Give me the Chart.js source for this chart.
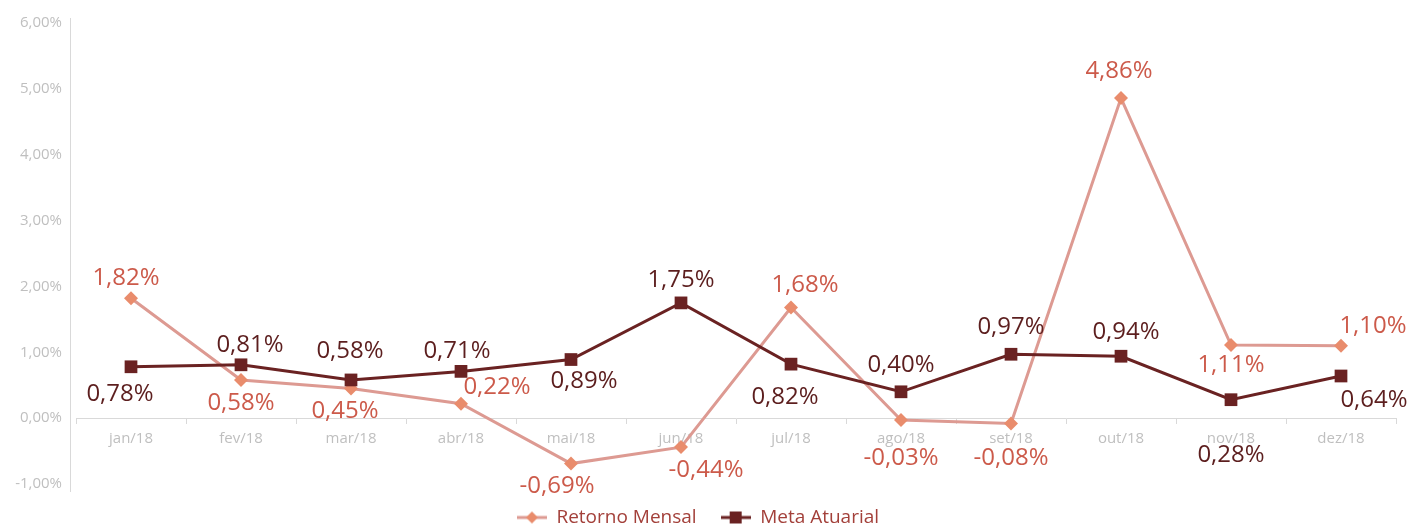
<!DOCTYPE html>
<html>
<head>
<meta charset="utf-8">
<script src="https://cdn.jsdelivr.net/npm/chart.js@4.4.0/dist/chart.umd.min.js"></script>
<style>
  html, body { margin: 0; padding: 0; background: #ffffff; }
  #wrap { width: 1423px; height: 527px; }
</style>
</head>
<body>
<div id="wrap"><canvas id="chart" width="1423" height="527"></canvas></div>
<script>
// Data
const months = ['jan/18', 'fev/18', 'mar/18', 'abr/18', 'mai/18', 'jun/18', 'jul/18', 'ago/18', 'set/18', 'out/18', 'nov/18', 'dez/18'];
const retornoMensal = [1.82, 0.58, 0.45, 0.22, -0.69, -0.44, 1.68, -0.03, -0.08, 4.86, 1.11, 1.10];
const metaAtuarial = [0.78, 0.81, 0.58, 0.71, 0.89, 1.75, 0.82, 0.40, 0.97, 0.94, 0.28, 0.64];
const yTicks = [-1, 0, 1, 2, 3, 4, 5, 6];

// Where each value label sits relative to its marker [dx, dy]
const retornoLabelPos = [[-5, -20], [0, 23], [-6, 23], [36, -16], [-14, 23], [25, 23], [14, -22], [0, 38], [0, 35], [-2, -27], [0, 20], [32, -20]];
const metaLabelPos = [[-11, 27], [9, -20], [-1, -29], [-4, -20], [13, 22], [0, -23], [-6, 33], [0, -27], [0, -27], [5, -24], [0, 55], [33, 24]];

const COLORS = {
  retornoLine: '#dd9a92',
  retornoMarker: '#e98c6c',
  retornoLabel: '#cc5a4a',
  metaLine: '#6a2222',
  metaLabel: '#5c1e1e',
  axis: '#d9d9d9',
  tick: '#bfbfbf',
  legend: '#a3403a'
};

function fmtPct(v) {
  return v.toFixed(2).replace('.', ',') + '%';
}

// Small line+marker images for the legend
function legendIcon(lineColor, markerColor, diamond) {
  const c = document.createElement('canvas');
  c.width = 30; c.height = 16;
  const g = c.getContext('2d');
  g.strokeStyle = lineColor;
  g.lineWidth = 3;
  g.beginPath(); g.moveTo(0, 8); g.lineTo(30, 8); g.stroke();
  g.fillStyle = markerColor;
  g.beginPath();
  if (diamond) {
    g.moveTo(15, 2); g.lineTo(21, 8); g.lineTo(15, 14); g.lineTo(9, 8); g.closePath();
  } else {
    g.rect(9, 2, 12, 12);
  }
  g.fill();
  return c;
}
const legendIcons = [
  legendIcon(COLORS.retornoLine, COLORS.retornoMarker, true),
  legendIcon(COLORS.metaLine, COLORS.metaLine, false)
];

// Keep the legend strip at a fixed height so the plot ends where the reference does
const legendHeight = {
  id: 'legendHeight',
  beforeLayout(chart) {
    const lg = chart.legend;
    if (lg && !lg._fixedFit) {
      const fit = lg.fit;
      lg.fit = function () {
        fit.call(this);
        this.height = 43;
      };
      lg._fixedFit = true;
    }
  }
};

// Value labels next to each point
const valueLabels = {
  id: 'valueLabels',
  afterDatasetsDraw(chart) {
    const ctx = chart.ctx;
    chart.data.datasets.forEach((ds, i) => {
      const meta = chart.getDatasetMeta(i);
      const offsets = i === 0 ? retornoLabelPos : metaLabelPos;
      ctx.save();
      ctx.font = '24px "Open Sans"';
      ctx.fillStyle = i === 0 ? COLORS.retornoLabel : COLORS.metaLabel;
      ctx.textAlign = 'center';
      ctx.textBaseline = 'middle';
      meta.data.forEach((pt, j) => {
        const [dx, dy] = offsets[j];
        ctx.fillText(fmtPct(ds.data[j]), pt.x + dx, pt.y + dy);
      });
      ctx.restore();
    });
  }
};

// Vertical axis line, a little left of the plot area
const valueAxisLine = {
  id: 'valueAxisLine',
  beforeDatasetsDraw(chart) {
    const { ctx, chartArea } = chart;
    ctx.save();
    ctx.strokeStyle = COLORS.axis;
    ctx.lineWidth = 1;
    ctx.beginPath();
    ctx.moveTo(chartArea.left - 5.5, chartArea.top - 5);
    ctx.lineTo(chartArea.left - 5.5, chartArea.bottom + 8);
    ctx.stroke();
    ctx.restore();
  }
};

new Chart(document.getElementById('chart'), {
  type: 'line',
  data: {
    labels: months,
    datasets: [
      {
        label: 'Retorno Mensal',
        data: retornoMensal,
        borderColor: COLORS.retornoLine,
        backgroundColor: COLORS.retornoMarker,
        borderWidth: 3,
        pointStyle: 'rectRot',
        pointRadius: 7,
        pointBorderWidth: 0,
        pointBackgroundColor: COLORS.retornoMarker,
        tension: 0,
        order: 1
      },
      {
        label: 'Meta Atuarial',
        data: metaAtuarial,
        borderColor: COLORS.metaLine,
        backgroundColor: COLORS.metaLine,
        borderWidth: 3,
        pointStyle: 'rect',
        pointRadius: 9,
        pointBorderWidth: 0,
        pointBackgroundColor: COLORS.metaLine,
        tension: 0,
        order: 0
      }
    ]
  },
  options: {
    responsive: false,
    animation: false,
    layout: { padding: { top: 12, right: 27, left: 0, bottom: 0 } },
    plugins: {
      tooltip: { enabled: false },
      legend: {
        position: 'bottom',
        labels: {
          usePointStyle: true,
          pointStyleWidth: 30,
          padding: 24,
          color: COLORS.legend,
          font: { family: 'Open Sans', size: 19 },
          sort: (a, b) => a.datasetIndex - b.datasetIndex,
          generateLabels(chart) {
            const items = Chart.defaults.plugins.legend.labels.generateLabels(chart);
            items.forEach(it => { it.pointStyle = legendIcons[it.datasetIndex]; });
            return items;
          }
        }
      }
    },
    scales: {
      x: {
        position: { y: 0 },
        offset: true,
        grid: {
          display: true,
          offset: true,
          drawOnChartArea: false,
          drawTicks: true,
          tickLength: 5,
          color: COLORS.axis
        },
        border: { display: true, color: COLORS.axis, width: 1 },
        ticks: {
          color: COLORS.tick,
          padding: 7,
          maxRotation: 0,
          font: { family: 'Open Sans', size: 15 }
        }
      },
      y: {
        min: -1,
        max: 6,
        afterBuildTicks(scale) {
          scale.ticks = yTicks.map(v => ({ value: v }));
        },
        afterFit(scale) {
          scale.width = 76;
        },
        grid: { display: false, drawTicks: false },
        border: { display: false },
        ticks: {
          color: COLORS.tick,
          padding: 14,
          font: { family: 'Open Sans', size: 15 },
          callback: v => fmtPct(v)
        }
      }
    }
  },
  plugins: [legendHeight, valueAxisLine, valueLabels]
});
</script>
</body>
</html>
